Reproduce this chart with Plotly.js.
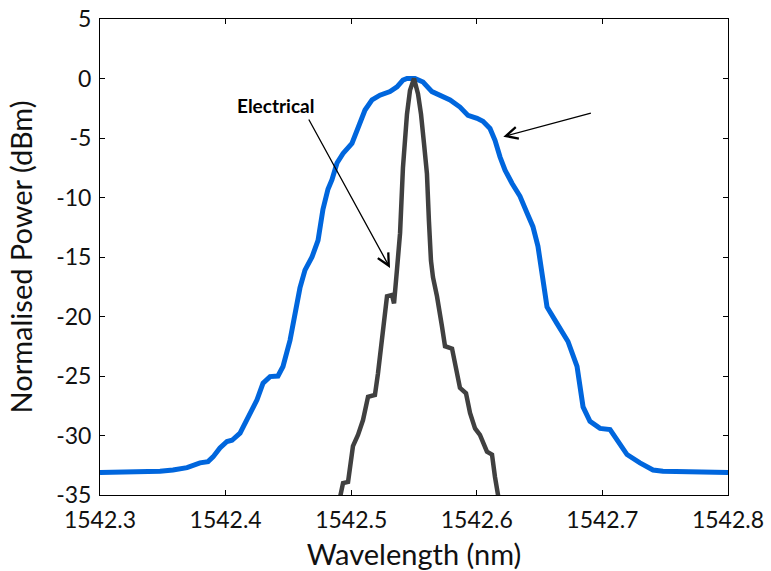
<!DOCTYPE html>
<html>
<head>
<meta charset="utf-8">
<script src="https://cdn.plot.ly/plotly-3.0.1.min.js"></script>
<style>html,body{margin:0;padding:0;background:#fff}#chart{width:771px;height:571px}</style>
</head>
<body>
<div id="chart"></div>
<script>
// Optical spectrum (blue)
const opticalWavelength = [1542.3,1542.3454,1542.3478,1542.3581,1542.3693,1542.3796,1542.3860,1542.3900,1542.3955,1542.4011,1542.4051,1542.4115,1542.4178,1542.4250,1542.4298,1542.4354,1542.4417,1542.4457,1542.4513,1542.4553,1542.4592,1542.4632,1542.4688,1542.4736,1542.4775,1542.4815,1542.4847,1542.4887,1542.4935,1542.5006,1542.5054,1542.5110,1542.5166,1542.5229,1542.5309,1542.5365,1542.5412,1542.5444,1542.5508,1542.5572,1542.5643,1542.5707,1542.5787,1542.5866,1542.5930,1542.6002,1542.6049,1542.6105,1542.6145,1542.6185,1542.6225,1542.6280,1542.6344,1542.6400,1542.6447,1542.6487,1542.6527,1542.6559,1542.6639,1542.6726,1542.6798,1542.6846,1542.6901,1542.6981,1542.7061,1542.7124,1542.7196,1542.7299,1542.7403,1542.7482,1542.7697,1542.7721,1542.8];
const opticalPower = [-33.1,-33.1,-33.0,-32.9,-32.7,-32.3,-32.2,-31.8,-31.05,-30.5,-30.4,-29.8,-28.4,-27.0,-25.6,-25.05,-25.0,-24.2,-22.0,-19.45,-17.6,-16.1,-15.0,-13.6,-11.0,-9.3,-8.5,-7.1,-6.3,-5.45,-4.05,-2.65,-1.8,-1.4,-1.1,-0.7,-0.13,0,0,-0.3,-1.1,-1.45,-1.8,-2.4,-3.1,-3.35,-3.6,-4.2,-5.2,-6.6,-7.7,-8.8,-9.9,-11.3,-12.45,-14.1,-17.0,-19.2,-20.6,-22.1,-24.2,-27.6,-28.8,-29.4,-29.5,-30.4,-31.6,-32.3,-32.9,-33.0,-33.0,-33.1,-33.1];

// Electrical spectrum (dark grey)
const electricalWavelength = [1542.4895,1542.4911,1542.4935,1542.4975,1542.5014,1542.5054,1542.5094,1542.5134,1542.5189,1542.5213,1542.5253,1542.5285,1542.5325,1542.5341,1542.5365,1542.5389,1542.5412,1542.5444,1542.5468,1542.55,1542.5532,1542.5556,1542.5580,1542.5603,1542.5619,1542.5635,1542.5651,1542.5683,1542.5723,1542.5747,1542.5803,1542.5842,1542.5866,1542.5914,1542.5946,1542.5986,1542.6025,1542.6081,1542.6121,1542.6145,1542.6169,1542.6185];
const electricalPower = [-36,-35,-34.0,-33.9,-30.9,-29.95,-28.7,-26.75,-26.6,-24.8,-21.4,-18.3,-18.2,-18.9,-16.0,-13.0,-7.5,-3.0,-1.0,0,-1.3,-3.0,-5.5,-8.0,-12.0,-15.3,-16.7,-18.3,-20.85,-22.5,-22.7,-24.8,-26.0,-26.45,-28.1,-29.4,-29.95,-31.35,-31.6,-33.5,-35,-36];

const xTickVals = [1542.3,1542.4,1542.5,1542.6,1542.7,1542.8];
const xTickText = ['1542.3','1542.4','1542.5','1542.6','1542.7','1542.8'];
const yTickVals = [5,0,-5,-10,-15,-20,-25,-30,-35];
const yTickText = ['5','0','-5','-10','-15','-20','-25','-30','-35'];

const FONT = 'Lato, "Open Sans", sans-serif';

const traces = [
  {x: opticalWavelength, y: opticalPower, mode: 'lines', name: 'Optical',
   line: {color: '#0066dd', width: 5}},
  {x: electricalWavelength, y: electricalPower, mode: 'lines', name: 'Electrical',
   line: {color: '#404040', width: 4.5}}
];

const axisCommon = {
  showgrid: false, zeroline: false, showline: true, linecolor: '#000', linewidth: 1,
  mirror: 'ticks', ticks: 'inside', ticklen: 5, tickwidth: 1, tickcolor: '#000',
  tickfont: {family: FONT, size: 23, color: '#111'}
};

const layout = {
  width: 771, height: 571,
  margin: {l: 100, r: 43, t: 19, b: 76},
  paper_bgcolor: '#fff', plot_bgcolor: '#fff',
  showlegend: false,
  font: {family: FONT},
  xaxis: Object.assign({}, axisCommon, {
    range: [1542.3, 1542.8], tickmode: 'array', tickvals: xTickVals, ticktext: xTickText,
    ticklabelstandoff: 4,
    title: {text: 'Wavelength (nm)', font: {family: FONT, size: 29, color: '#111'}}
  }),
  yaxis: Object.assign({}, axisCommon, {
    range: [-35, 5], tickmode: 'array', tickvals: yTickVals, ticktext: yTickText,
    ticklabelstandoff: 3,
    title: {text: 'Normalised Power (dBm)', font: {family: FONT, size: 29, color: '#111'}}
  }),
  annotations: [
    {x: 1542.4401, y: -2.31, xref: 'x', yref: 'y', text: '<b>Electrical</b>', showarrow: false,
     font: {family: FONT, size: 19, color: '#000'}},
    {x: 1542.5309, y: -15.92, ax: 1542.4656, ay: -3.32, xref: 'x', yref: 'y', axref: 'x', ayref: 'y',
     text: '', showarrow: true, arrowhead: 5, arrowsize: 1.8, arrowwidth: 1.3, arrowcolor: '#000', standoff: 0, startstandoff: 0},
    {x: 1542.6211, y: -4.89, ax: 1542.692, ay: -2.87, xref: 'x', yref: 'y', axref: 'x', ayref: 'y',
     text: '', showarrow: true, arrowhead: 5, arrowsize: 1.8, arrowwidth: 1.3, arrowcolor: '#000', standoff: 0, startstandoff: 0}
  ]
};

Plotly.newPlot('chart', traces, layout, {displayModeBar: false, staticPlot: true});
</script>
</body>
</html>
